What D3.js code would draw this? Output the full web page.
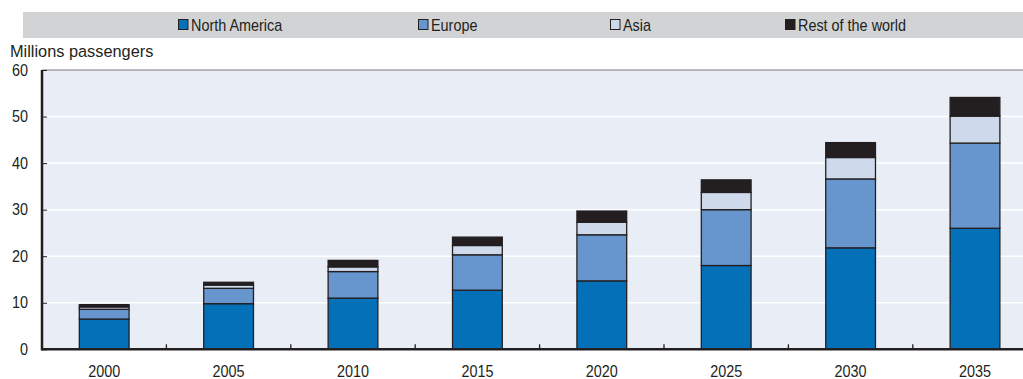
<!DOCTYPE html>
<html>
<head>
<meta charset="utf-8">
<script src="https://cdn.jsdelivr.net/npm/d3@7"></script>
<style>
  html, body { margin: 0; padding: 0; background: #ffffff; }
  svg { display: block; }
  text { font-family: "Liberation Sans", Arial, sans-serif; fill: #231f20; }
</style>
</head>
<body>
<svg id="chart" width="1023" height="379"></svg>
<script>
// Passenger forecast, millions, by region
const years = ["2000", "2005", "2010", "2015", "2020", "2025", "2030", "2035"];
const northAmerica = [6.5, 9.8, 11.0, 12.7, 14.7, 18.0, 21.8, 26.0];
const europe       = [2.1, 3.3, 5.7, 7.6, 9.9, 12.0, 14.8, 18.3];
const asia         = [0.5, 0.7, 1.0, 2.0, 2.7, 3.7, 4.6, 5.8];
const restOfWorld  = [0.5, 0.6, 1.4, 1.8, 2.4, 2.7, 3.2, 4.0];
const seriesNames  = ["North America", "Europe", "Asia", "Rest of the world"];
const yTicks       = [0, 10, 20, 30, 40, 50, 60];

const colors = ["#0470b8", "#6796ce", "#cfd9ec", "#231f20"];
const ink = "#231f20";

const svg = d3.select("#chart");
const W = 1023;
const plotLeft = 42, plotTop = 70, plotBottom = 349.3;
const step = 124.4;

const table = years.map((yr, i) => ({
  year: yr,
  "North America": northAmerica[i],
  "Europe": europe[i],
  "Asia": asia[i],
  "Rest of the world": restOfWorld[i]
}));
const stacked = d3.stack().keys(seriesNames)(table);

const x = d3.scaleBand()
  .domain(years)
  .range([plotLeft, plotLeft + step * years.length])
  .paddingInner(0.6)
  .paddingOuter(0.3);
const y = d3.scaleLinear().domain([0, 60]).range([plotBottom, plotTop]);

// condensed text helper
function label(g, txt, px, py, anchor, size, sx = 0.9) {
  return g.append("text")
    .attr("transform", `translate(${px},${py}) scale(${sx},1)`)
    .attr("text-anchor", anchor)
    .attr("font-size", size)
    .text(txt);
}

// legend band
svg.append("rect").attr("x", 23).attr("y", 12).attr("width", W - 23).attr("height", 26)
  .attr("fill", "#d2d3d5");
const legendX = [178, 418, 610, 785];
const lg = svg.append("g");
seriesNames.forEach((name, i) => {
  lg.append("rect")
    .attr("x", legendX[i] + 0.5).attr("y", 19.5).attr("width", 9.5).attr("height", 10)
    .attr("fill", colors[i]).attr("stroke", ink).attr("stroke-width", 1);
  label(lg, name, legendX[i] + 13, 30.5, "start", 16);
});

// y-axis title
label(svg, "Millions passengers", 10, 57, "start", 16.5, 0.99);

// plot background
svg.append("rect").attr("x", plotLeft).attr("y", plotTop).attr("width", W - plotLeft).attr("height", plotBottom - plotTop)
  .attr("fill", "#e9edf6");

// gridlines
svg.append("g").selectAll("line").data(yTicks.filter(t => t > 0 && t < 60)).join("line")
  .attr("x1", plotLeft).attr("x2", W)
  .attr("y1", d => y(d)).attr("y2", d => y(d))
  .attr("stroke", "#ffffff").attr("stroke-width", 1.5);
svg.append("line").attr("x1", plotLeft).attr("x2", W).attr("y1", y(60)).attr("y2", y(60))
  .attr("stroke", "#7a7a7a").attr("stroke-width", 1);

// bars
svg.append("g").selectAll("g").data(stacked).join("g")
  .attr("fill", (d, i) => colors[i])
  .selectAll("rect").data(d => d).join("rect")
  .attr("x", d => x(d.data.year))
  .attr("width", x.bandwidth())
  .attr("y", d => y(d[1]))
  .attr("height", d => y(d[0]) - y(d[1]))
  .attr("stroke", ink).attr("stroke-width", 1.3);

// y axis
const yAxis = svg.append("g").attr("transform", `translate(${plotLeft},0)`)
  .call(d3.axisRight(y).tickValues(yTicks).tickSize(5).tickFormat(""));
yAxis.select(".domain").remove();
yAxis.selectAll(".tick line").attr("stroke", ink).attr("stroke-width", 1);
yTicks.forEach(t => label(svg, String(t), 28, y(t) + 5.5, "end", 16));
svg.append("line").attr("x1", plotLeft).attr("x2", plotLeft).attr("y1", plotTop).attr("y2", plotBottom + 1)
  .attr("stroke", ink).attr("stroke-width", 2.5);

// x axis
const boundaries = years.slice(1).map(yr => x(yr) - x.step() * x.paddingOuter());
svg.append("g").selectAll("line").data(boundaries).join("line")
  .attr("x1", d => d).attr("x2", d => d)
  .attr("y1", plotBottom).attr("y2", plotBottom - 5)
  .attr("stroke", ink).attr("stroke-width", 1.3);
svg.append("line").attr("x1", plotLeft - 1).attr("x2", W).attr("y1", plotBottom).attr("y2", plotBottom)
  .attr("stroke", ink).attr("stroke-width", 2.5);
years.forEach(yr => label(svg, yr, x(yr) + x.bandwidth() / 2, 377, "middle", 16));
</script>
</body>
</html>
